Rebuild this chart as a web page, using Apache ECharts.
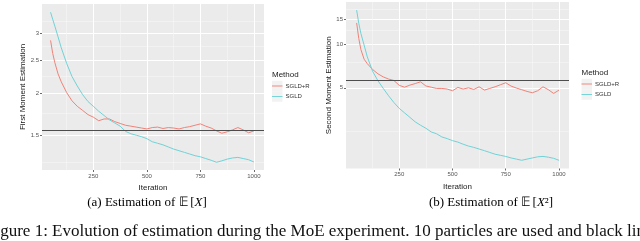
<!DOCTYPE html>
<html>
<head>
<meta charset="utf-8">
<script src="https://cdn.jsdelivr.net/npm/echarts@6/dist/echarts.min.js"></script>
<style>
html,body{margin:0;padding:0;background:#fff;}
#c{width:640px;height:241px;}
</style>
</head>
<body>
<div id="c"></div>
<script>
// ---- data ----
const iterations = [50,60,70,85,100,125,150,175,200,225,250,275,300,325,350,375,400,425,450,475,500,525,550,575,600,625,650,675,700,725,750,775,800,825,850,875,900,925,950,975,1000];
const firstSGLDR = [2.86,2.62,2.46,2.28,2.16,2.01,1.90,1.83,1.78,1.73,1.70,1.66,1.68,1.68,1.65,1.63,1.61,1.60,1.59,1.58,1.57,1.585,1.59,1.575,1.585,1.58,1.57,1.585,1.595,1.61,1.625,1.60,1.58,1.55,1.525,1.54,1.56,1.585,1.56,1.53,1.55];
const firstSGLD = [3.46,3.30,3.15,2.93,2.72,2.45,2.24,2.10,1.98,1.89,1.83,1.77,1.72,1.67,1.635,1.60,1.545,1.52,1.505,1.49,1.47,1.44,1.425,1.41,1.39,1.37,1.355,1.34,1.325,1.31,1.30,1.285,1.27,1.253,1.265,1.28,1.29,1.295,1.285,1.275,1.255];
const secondSGLDR = [14.1,11.0,9.2,7.9,7.35,6.7,6.25,5.95,5.75,5.62,5.2,5.05,5.22,5.35,5.5,5.15,5.05,4.95,4.95,4.9,4.77,5.03,4.9,5.0,4.87,5.08,4.82,4.95,5.08,5.25,5.42,5.14,4.98,4.85,4.72,4.62,4.77,5.08,4.85,4.57,4.82];
const secondSGLD = [17.3,14.0,11.9,9.9,8.2,6.5,5.6,4.95,4.4,3.95,3.6,3.35,3.12,2.9,2.75,2.62,2.47,2.4,2.28,2.22,2.15,2.1,2.03,1.97,1.93,1.88,1.83,1.78,1.73,1.7,1.67,1.63,1.60,1.57,1.6,1.63,1.66,1.67,1.65,1.62,1.57];
const firstTrue = 1.556;
const secondTrue = 5.63;
const methods = ['SGLD+R', 'SGLD'];
const xTicks = [250, 500, 750, 1000];
const xMinor = [125, 375, 625, 875];
const firstYTicks = [1.5, 2, 2.5, 3];
const firstYMinor = [1.25, 1.75, 2.25, 2.75, 3.25];
const secondYTicks = [5, 10, 15];
const secondYMinor = [2.5, 7.5, 12.5, 17.5];

// ---- style ----
const C_R = '#F08379';
const C_C = '#6FD3D7';
const SANS = 'Liberation Sans';
const SERIF = 'Liberation Serif';
const pair = (arr) => iterations.map((x, i) => [x, arr[i]]);

const grids = [
  {left: 42, top: 4, width: 222, height: 166},
  {left: 346, top: 2, width: 223, height: 166.5}
];
const yRanges = [[1.189, 3.66], [1.377, 19.7]];
const xRanges = [[10, 1047], [0, 1047]];

const xAxes = [], yAxes = [], series = [];
const yTitles = ['First Moment Estimation', 'Second Moment Estimation'];
const yTicksAll = [firstYTicks, secondYTicks];
const yMinorAll = [firstYMinor, secondYMinor];
const dataAll = [[firstSGLDR, firstSGLD], [secondSGLDR, secondSGLD]];
const trueAll = [firstTrue, secondTrue];

for (let g = 0; g < 2; g++) {
  xAxes.push({
    type: 'value', gridIndex: g, min: xRanges[g][0], max: xRanges[g][1],
    name: 'Iteration', nameLocation: 'middle', nameGap: 9,
    nameTextStyle: {fontFamily: SANS, fontSize: 8, color: '#1a1a1a'},
    axisLine: {show: false},
    axisTick: {show: true, length: 2, lineStyle: {color: '#444', width: 0.8}, customValues: xTicks},
    axisLabel: {show: true, fontFamily: SANS, fontSize: 6, color: '#555', margin: 3, customValues: xTicks,
      formatter: (v) => String(v), showMinLabel: true, showMaxLabel: true},
    splitLine: {show: true, lineStyle: {color: '#ffffff', width: 1}}
  });
  xAxes.push({
    type: 'value', gridIndex: g, min: xRanges[g][0], max: xRanges[g][1],
    axisLine: {show: false}, axisLabel: {show: false},
    axisTick: {show: false, customValues: xMinor},
    splitLine: {show: true, lineStyle: {color: '#f6f6f6', width: 0.6}}
  });
  yAxes.push({
    type: 'log', logBase: 10, gridIndex: g, min: yRanges[g][0], max: yRanges[g][1],
    name: yTitles[g], nameLocation: 'middle', nameRotate: 90, nameGap: g === 0 ? 14 : 12,
    nameTextStyle: {fontFamily: SANS, fontSize: 8, color: '#1a1a1a'},
    axisLine: {show: false},
    axisTick: {show: true, length: 2, lineStyle: {color: '#444', width: 0.8}, customValues: yTicksAll[g]},
    axisLabel: {show: true, fontFamily: SANS, fontSize: 6, color: '#555', margin: 3, customValues: yTicksAll[g],
      formatter: (v) => String(Math.round(v * 100) / 100)},
    splitLine: {show: true, lineStyle: {color: '#ffffff', width: 1}}
  });
  yAxes.push({
    type: 'log', logBase: 10, gridIndex: g, min: yRanges[g][0], max: yRanges[g][1], position: 'left',
    axisLine: {show: false}, axisLabel: {show: false},
    axisTick: {show: false, customValues: yMinorAll[g]},
    splitLine: {show: true, lineStyle: {color: '#f6f6f6', width: 0.6}}
  });
  const xi = g * 2, yi = g * 2;
  series.push({
    name: methods[0], type: 'line', xAxisIndex: xi, yAxisIndex: yi,
    data: pair(dataAll[g][0]), showSymbol: false, symbol: 'none', smooth: false,
    lineStyle: {color: C_R, width: 1}, itemStyle: {color: C_R}, z: 3, silent: true,
    markLine: {
      silent: true, symbol: ['none', 'none'], label: {show: false},
      lineStyle: {color: '#4d4d4d', width: 1.2, type: 'solid'},
      data: [{yAxis: trueAll[g]}], z: 5
    }
  });
  series.push({
    name: methods[1], type: 'line', xAxisIndex: xi, yAxisIndex: yi,
    data: pair(dataAll[g][1]), showSymbol: false, symbol: 'none', smooth: false,
    lineStyle: {color: C_C, width: 1}, itemStyle: {color: C_C}, z: 3, silent: true
  });
}

const ROW = 10.5;
const legendPos = [[272, 80.75], [581.5, 78.75]];
const legendIcon = 'path://M0,0H22V2H0Z';
const legends = legendPos.map(([x, y]) => ({
  left: x, top: y, orient: 'vertical', data: methods, icon: legendIcon,
  itemWidth: ROW, itemHeight: ROW, itemGap: 0, padding: 0, selectedMode: false,
  textStyle: {fontFamily: SANS, fontSize: 6, color: '#333', lineHeight: ROW, padding: [0, 0, 0, -2]}
}));

const keyRects = [];
legendPos.forEach(([x, y]) => {
  for (let k = 0; k < 2; k++) {
    keyRects.push({type: 'rect', left: x, top: y + k * ROW, z: -1,
      shape: {width: ROW, height: ROW}, style: {fill: '#f2f2f2'}, silent: true});
  }
});

const capRich = {
  n: {fontFamily: SERIF, fontSize: 13, color: '#111'},
  i: {fontFamily: SERIF, fontSize: 13, fontStyle: 'italic', color: '#111'}
};

const graphics = keyRects.concat([
  {type: 'text', left: 272, top: 71, silent: true,
   style: {text: 'Method', font: '8px "' + SANS + '"', fill: '#1a1a1a'}},
  {type: 'text', left: 581.5, top: 69, silent: true,
   style: {text: 'Method', font: '8px "' + SANS + '"', fill: '#1a1a1a'}},
  {type: 'text', x: 147, y: 203, silent: true,
   style: {text: '{n|(a) Estimation of 𝔼\u2009[}{i|X}{n|]}', rich: capRich, align: 'center', verticalAlign: 'middle'}},
  {type: 'text', x: 491, y: 203, silent: true,
   style: {text: '{n|(b) Estimation of 𝔼\u2009[}{i|X}{n|²]}', rich: capRich, align: 'center', verticalAlign: 'middle'}},
  {type: 'text', x: -14, y: 232, silent: true,
   style: {text: 'Figure 1: Evolution of estimation during the MoE experiment. 10 particles are used and black lines',
     font: '17px "' + SERIF + '"', fill: '#111', align: 'left', verticalAlign: 'middle'}}
]);

const chart = echarts.init(document.getElementById('c'), null, {renderer: 'canvas'});
chart.setOption({
  animation: false,
  backgroundColor: '#ffffff',
  grid: grids.map((g) => Object.assign({show: true, backgroundColor: '#ebebeb', borderWidth: 0}, g)),
  xAxis: xAxes,
  yAxis: yAxes,
  legend: legends,
  series: series,
  graphic: graphics
});
</script>
</body>
</html>
